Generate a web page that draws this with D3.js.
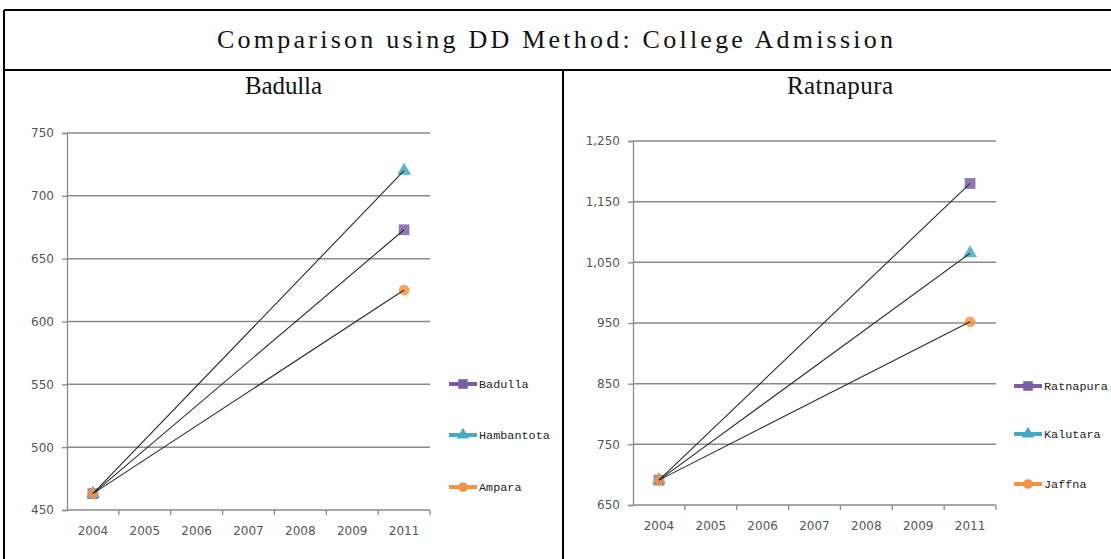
<!DOCTYPE html>
<html>
<head>
<meta charset="utf-8">
<script src="https://cdn.jsdelivr.net/npm/d3@7"></script>
<style>
  html, body { margin: 0; padding: 0; background: #fff; }
  svg { display: block; }
</style>
</head>
<body>
<svg id="chart" width="1111" height="559"></svg>
<script>
// Years on the horizontal axis (2010 is not reported)
const categories = ["2004", "2005", "2006", "2007", "2008", "2009", "2011"];

// Badulla comparison group
const badullaSeries = ["Badulla", "Hambantota", "Ampara"];
const badullaValues = [
  [463, null, null, null, null, null, 673],
  [463, null, null, null, null, null, 720],
  [463, null, null, null, null, null, 625]
];
const badullaTicks = [450, 500, 550, 600, 650, 700, 750];

// Ratnapura comparison group
const ratnapuraSeries = ["Ratnapura", "Kalutara", "Jaffna"];
const ratnapuraValues = [
  [691, null, null, null, null, null, 1180],
  [691, null, null, null, null, null, 1065],
  [691, null, null, null, null, null, 952]
];
const ratnapuraTicks = [650, 750, 850, 950, 1050, 1150, 1250];

const seriesColors = ["#7b5fa3", "#45a9c4", "#f39343"];
const seriesShapes = [d3.symbolSquare, d3.symbolTriangle, d3.symbolCircle];
const markerSizes = [115, 85, 90];

const svg = d3.select("#chart");

// ---- Table frame ----
const frame = svg.append("g").attr("stroke", "#000").attr("stroke-width", 2);
frame.append("line").attr("x1", 4).attr("x2", 1111).attr("y1", 10).attr("y2", 10);
frame.append("line").attr("x1", 4).attr("x2", 4).attr("y1", 10).attr("y2", 559);
frame.append("line").attr("x1", 4).attr("x2", 1111).attr("y1", 70).attr("y2", 70);
frame.append("line").attr("x1", 563).attr("x2", 563).attr("y1", 70).attr("y2", 559);

svg.append("text")
  .attr("x", 217).attr("y", 48)
  .attr("textLength", 676).attr("lengthAdjust", "spacing")
  .style("font-family", "'Liberation Serif', serif")
  .style("font-size", "26px")
  .attr("fill", "#111")
  .text("Comparison using DD Method: College Admission");

function drawPanel(opts) {
  const g = svg.append("g");

  g.append("text")
    .attr("x", opts.titleX).attr("y", 94)
    .attr("textLength", opts.titleLen).attr("lengthAdjust", "spacing")
    .style("font-family", "'Liberation Serif', serif")
    .style("font-size", "25px")
    .attr("fill", "#111")
    .text(opts.title);

  const x = d3.scaleBand().domain(categories).range([opts.x0, opts.x1]).paddingInner(0).paddingOuter(0);
  const y = d3.scaleLinear().domain([opts.ticks[0], opts.ticks[opts.ticks.length - 1]]).range([opts.yBottom, opts.yTop]);

  // horizontal gridlines
  g.append("g")
    .selectAll("line")
    .data(opts.ticks.slice(1))
    .join("line")
    .attr("x1", opts.x0).attr("x2", opts.x1)
    .attr("y1", d => y(d)).attr("y2", d => y(d))
    .attr("stroke", "#8a8a8a").attr("stroke-width", 1.5);

  // y axis
  const yAxis = g.append("g")
    .attr("transform", `translate(${opts.x0},0)`)
    .call(d3.axisLeft(y).tickValues(opts.ticks).tickSize(5).tickPadding(8).tickFormat(d3.format(",")));
  yAxis.select(".domain").attr("stroke", "#8a8a8a").attr("stroke-width", 1.3);
  yAxis.selectAll(".tick line").attr("stroke", "#8a8a8a").attr("stroke-width", 1.3);
  yAxis.selectAll(".tick text")
    .style("font-family", "'DejaVu Sans', sans-serif")
    .style("font-size", "12px")
    .attr("fill", "#555");

  // x axis baseline, boundary ticks and year labels
  const xAxis = g.append("g");
  xAxis.append("line")
    .attr("x1", opts.x0).attr("x2", opts.x1)
    .attr("y1", opts.yBottom).attr("y2", opts.yBottom)
    .attr("stroke", "#8a8a8a").attr("stroke-width", 1.5);
  const bounds = categories.map(c => x(c)).concat([x.range()[1]]);
  xAxis.selectAll("line.tk")
    .data(bounds.slice(1))
    .join("line").attr("class", "tk")
    .attr("x1", d => d).attr("x2", d => d)
    .attr("y1", opts.yBottom).attr("y2", opts.yBottom + 5)
    .attr("stroke", "#8a8a8a").attr("stroke-width", 1.3);
  xAxis.selectAll("text")
    .data(categories)
    .join("text")
    .attr("x", d => x(d) + x.bandwidth() / 2)
    .attr("y", opts.yBottom + 25)
    .attr("text-anchor", "middle")
    .style("font-family", "'DejaVu Sans', sans-serif")
    .style("font-size", "12px")
    .attr("fill", "#555")
    .text(d => d);

  const cx = d => x(d.cat) + x.bandwidth() / 2;
  const pts = opts.values.map(vals =>
    vals.map((v, i) => ({ cat: categories[i], v })).filter(d => d.v !== null));

  // markers
  pts.forEach((p, si) => {
    g.append("g").selectAll("path")
      .data(p)
      .join("path")
      .attr("transform", d => `translate(${cx(d)},${y(d.v)})`)
      .attr("d", d3.symbol().type(seriesShapes[si]).size(markerSizes[si]))
      .attr("fill", seriesColors[si])
      .attr("opacity", 0.85);
  });

  // connecting lines (gaps bridged)
  const line = d3.line().x(cx).y(d => y(d.v));
  pts.forEach(p => {
    g.append("path")
      .datum(p)
      .attr("d", line)
      .attr("fill", "none")
      .attr("stroke", "#2a2a2a")
      .attr("stroke-width", 1.1);
  });

  // legend
  const lg = g.append("g");
  opts.series.forEach((name, si) => {
    const ly = opts.legendY[si];
    lg.append("line")
      .attr("x1", opts.legendX).attr("x2", opts.legendX + 28)
      .attr("y1", ly).attr("y2", ly)
      .attr("stroke", seriesColors[si]).attr("stroke-width", 4);
    lg.append("path")
      .attr("transform", `translate(${opts.legendX + 14},${ly})`)
      .attr("d", d3.symbol().type(seriesShapes[si]).size(markerSizes[si] * 0.8))
      .attr("fill", seriesColors[si]);
    lg.append("text")
      .attr("x", opts.legendX + 30).attr("y", ly + 4)
      .style("font-family", "'Liberation Mono', monospace")
      .style("font-size", "11.8px")
      .attr("fill", "#222")
      .text(name);
  });
}

drawPanel({
  title: "Badulla", titleX: 245, titleLen: 77,
  x0: 67, x1: 430, yTop: 133, yBottom: 510,
  ticks: badullaTicks, values: badullaValues, series: badullaSeries,
  legendX: 449, legendY: [384, 435, 487]
});

drawPanel({
  title: "Ratnapura", titleX: 787, titleLen: 106,
  x0: 633, x1: 996, yTop: 141, yBottom: 505,
  ticks: ratnapuraTicks, values: ratnapuraValues, series: ratnapuraSeries,
  legendX: 1014, legendY: [386, 434, 484]
});
</script>
</body>
</html>
